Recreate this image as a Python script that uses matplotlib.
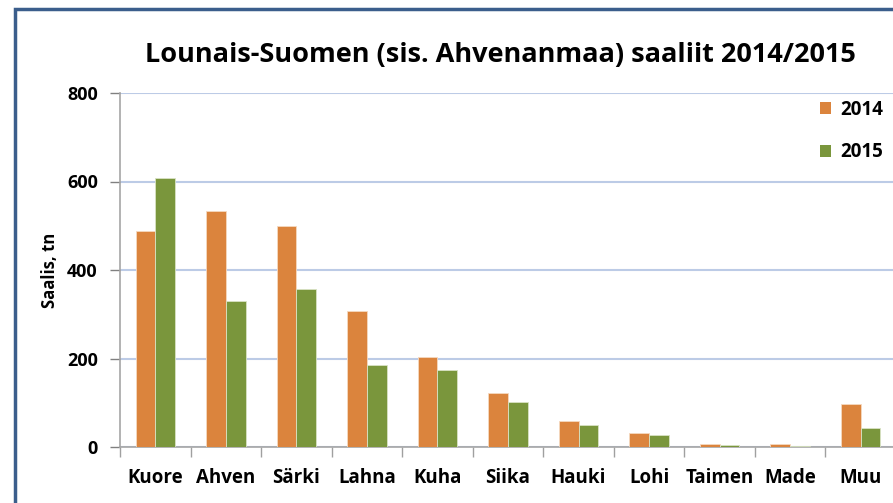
import matplotlib
matplotlib.use('Agg')
import matplotlib.pyplot as plt
from matplotlib.patches import Rectangle, Patch
import numpy as np

species = ['Kuore', 'Ahven', 'Särki', 'Lahna', 'Kuha', 'Siika', 'Hauki', 'Lohi', 'Taimen', 'Made', 'Muu']
catch_2014 = [489, 533, 500, 308, 203, 123, 59, 31, 7, 7, 97]
catch_2015 = [607, 329, 358, 185, 175, 102, 50, 26, 4, 3, 44]
y_ticks = [0, 200, 400, 600, 800]

orange = '#DB843D'
green = '#7A963C'

plt.rcParams['font.family'] = ['Open Sans', 'DejaVu Sans']

fig = plt.figure(figsize=(8.93, 5.03), dpi=100)
W, H = 893, 503

# outer chart frame (cropped on right/bottom)
frame = Rectangle((14.5 / W, -0.1), 1.2, (H - 8.5) / H + 0.1, transform=fig.transFigure,
                  fill=False, edgecolor='#3B5E8C', linewidth=2.5)
fig.patches.append(frame)

ax = fig.add_axes([120 / W, (H - 447) / H, 776 / W, 354 / H])
x = np.arange(len(species))
w = 0.28
ax.bar(x - w / 2, catch_2014, w, color=orange, edgecolor='#F5D9C0', linewidth=0.6, zorder=3)
ax.bar(x + w / 2, catch_2015, w, color=green, edgecolor='#D9E3C5', linewidth=0.6, zorder=3)

ax.set_xlim(-0.5, len(species) - 0.5)
ax.set_ylim(0, 800)
ax.set_yticks(y_ticks)
ax.set_yticklabels([str(v) for v in y_ticks], fontsize=13, fontweight='bold')
ax.set_xticks(x)
ax.set_xticklabels(species, fontsize=13.5, fontweight='bold')
ax.set_xticks(np.arange(-0.5, len(species), 1), minor=True)
ax.tick_params(axis='x', which='major', length=0, pad=15)
ax.tick_params(axis='x', which='minor', length=7, color='#A0A0A0', width=1)
ax.tick_params(axis='y', length=7, color='#808080', width=1, pad=9)

ax.grid(axis='y', color='#BCCBE6', linewidth=1.5, zorder=0)
for side in ['top', 'right']:
    ax.spines[side].set_visible(False)
ax.spines['left'].set_color('#A6A6A6')
ax.spines['bottom'].set_color('#A6A6A6')
ax.spines['left'].set_linewidth(1.2)
ax.spines['bottom'].set_linewidth(1.2)

ax.set_ylabel('Saalis, tn', fontsize=12, fontweight='bold', labelpad=6)

fig.text(500 / W, 1 - 55 / H, 'Lounais-Suomen (sis. Ahvenanmaa) saaliit 2014/2015',
         ha='center', va='center', fontsize=19.5, fontweight='bold')

handles = [Patch(facecolor=orange, label='2014'), Patch(facecolor=green, label='2015')]
leg = fig.legend(handles=handles, loc='upper left', bbox_to_anchor=(803 / W, 1 - 83 / H),
                 frameon=False, handlelength=0.6, handleheight=0.6, handletextpad=0.5,
                 labelspacing=1.2, prop={'weight': 'bold', 'size': 13.5})

fig.savefig('out.png', dpi=100)
